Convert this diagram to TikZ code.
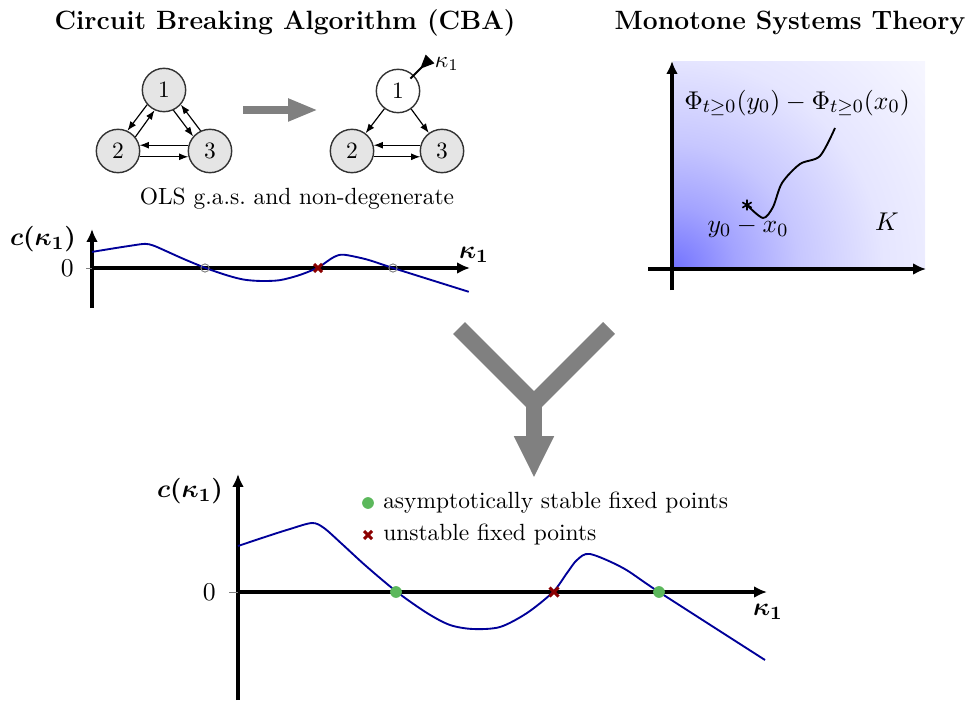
\documentclass[tikz,border=0pt]{standalone}
\usepackage{amsmath,amssymb}
\usepackage{tikz}
\usetikzlibrary{arrows.meta,plotmarks}

\definecolor{curveblue}{RGB}{0,0,153}
\definecolor{stablegreen}{RGB}{92,184,92}
\definecolor{unstablered}{RGB}{139,0,0}
\pgfdeclareradialshading{monoshade}{\pgfpoint{0bp}{0bp}}{color(0bp)=(blue!55); color(4.5bp)=(blue!36); color(9bp)=(blue!22); color(15bp)=(blue!10); color(25bp)=(blue!2); color(50bp)=(blue!2)}
\newcommand{\ccurve}{plot[smooth,tension=0.5] coordinates {(0,-46) (30,-56) (52,-63) (74,-69) (86,-64) (104,-48) (128,-26) (159,0) (189,21) (212,33) (235,37) (262,35) (289,21) (315,0) (329,-19) (339,-32) (352,-38) (385,-24) (421,0) (527,68)}}

\begin{document}
\begin{tikzpicture}[x=0.015cm, y=-0.015cm, >={Latex[length=4pt,width=3pt]},
	species/.style={circle, draw=black!80, fill=gray!20, line width=0.6pt, minimum size=18.5pt, inner sep=0pt},
	flow/.style={->, line width=0.5pt},
	axis/.style={line width=1.6pt, -{Latex[length=5.5pt,width=5pt]}},
	curve/.style={curveblue, line width=0.8pt},
	stabledot/.style={circle, fill=stablegreen, inner sep=0pt, minimum size=5pt},
	opendot/.style={circle, draw=gray, inner sep=0pt, minimum size=3.5pt, line width=0.4pt},
	xmark/.style={unstablered, line width=1.3pt},
	title/.style={font=\fontsize{11.3}{13.5}\selectfont\bfseries},
	biglabel/.style={font=\fontsize{11.2}{13.5}\selectfont},
	bigarrow/.style={gray, line width=7.2pt}]
	\useasboundingbox (0,0) rectangle (971,703);
	\node[title] (cba) at (285,23) {Circuit Breaking Algorithm (CBA)};
	\node[title] (mst) at (790,23) {Monotone Systems Theory};
	% network with all three species
	\node[species] (a1) at (164,90) {1};
	\node[species] (a2) at (118,151) {2};
	\node[species] (a3) at (210,151) {3};
	\draw[flow] (a1.221) -- (a2.65);
	\draw[flow] (a2.39) -- (a1.245);
	\draw[flow] (a1.295) -- (a3.139);
	\draw[flow] (a3.115) -- (a1.319);
	\draw[flow] (a3.165) -- (a2.15);
	\draw[flow] (a2.-15) -- (a3.195);
	\coordinate (ga) at (243,110);
	\coordinate (gb) at (318,110);
	\draw[gray, line width=3.4pt, -{Triangle[length=12.8pt,width=9pt]}] (ga) -- (gb);
	% network with species 1 fixed
	\node[species, fill=white] (b1) at (398,91) {1};
	\node[species] (b2) at (352,151) {2};
	\node[species] (b3) at (442,151) {3};
	\draw[flow] (b1) -- (b2);
	\draw[flow] (b1) -- (b3);
	\draw[flow] (b3.165) -- (b2.15);
	\draw[flow] (b2.-15) -- (b3.195);
	\coordinate (pin) at (430,59);
	\draw[line width=0.9pt, shorten <=7.5pt, -{Triangle[reversed,length=6pt,width=5pt]}] (b1.center) -- (pin);
	\node (k1) at (447,64) {$\kappa_1$};
	\node (ols) at (297,199) {OLS g.a.s.\ and non-degenerate};
	% small plot
	\coordinate (o1) at (92,268);
	\draw[axis] (92,308) -- (92,229);
	\draw[axis] (o1) -- (470,268);
	\draw[gray, line width=0.4pt] (86,268) -- (o1);
	\node[biglabel, anchor=east] (zero1) at (82,268) {$0$};
	\node[biglabel] (c1) at (43,239) {$\boldsymbol{c(\kappa_1)}$};
	\node[biglabel] (kk1) at (474,255) {$\boldsymbol{\kappa_1}$};
	\begin{scope}[shift={(o1)}, xscale=0.715, yscale=0.35]
		\draw[curve] \ccurve;
	\end{scope}
	\node[opendot] (u1) at (205,268) {};
	\node[opendot] (u2) at (393,268) {};
	\draw[xmark] (318,268) +(-4,-4) -- +(4,4) +(-4,4) -- +(4,-4);
	% monotone systems panel
	\begin{scope}
		\clip (673,62) rectangle (925,269);
		\shade[shading=monoshade] (673,269) circle (350);
	\end{scope}
	\draw[axis] (672,290) -- (672,61);
	\draw[axis] (648,269) -- (926,269);
	\node[biglabel] (phi) at (797,103) {$\Phi_{t\geq 0}(y_0)-\Phi_{t\geq 0}(x_0)$};
	\draw[thick] plot[smooth] coordinates {(747,205) (763,218) (773,207) (782,183) (800,164) (820,156) (835,128)};
	\draw[line width=0.7pt] plot[mark=asterisk, mark size=2.3pt] coordinates {(747,205)};
	\node[biglabel] (diff) at (748,228) {$y_0-x_0$};
	\node[biglabel] (cone) at (887,222) {$K$};
	% merging arrow
	\coordinate (yl) at (459,328);
	\coordinate (yr) at (609,328);
	\coordinate (yj) at (534,403);
	\coordinate (yt) at (534,478);
	\draw[bigarrow] (yl) -- (yj) -- (yr);
	\draw[bigarrow, -{Triangle[length=17.9pt,width=15.8pt]}] (yj) -- (yt);
	% large plot
	\coordinate (o2) at (238,592);
	\draw[axis] (238,700) -- (238,474);
	\draw[axis] (o2) -- (767,592);
	\draw[gray, line width=0.4pt] (229,592) -- (o2);
	\node[biglabel, anchor=east] (zero2) at (224,592) {$0$};
	\node[biglabel] (c2) at (190,491) {$\boldsymbol{c(\kappa_1)}$};
	\node[biglabel] (kk2) at (768,612) {$\boldsymbol{\kappa_1}$};
	\begin{scope}[shift={(o2)}]
		\draw[curve] \ccurve;
	\end{scope}
	\node[stabledot] (s1) at (396,592) {};
	\node[stabledot] (s2) at (659,592) {};
	\draw[xmark] (554,592) +(-4.5,-4.5) -- +(4.5,4.5) +(-4.5,4.5) -- +(4.5,-4.5);
	\node[stabledot] (ls) at (368,503) {};
	\node[anchor=west] (lstext) at (375,503) {asymptotically stable fixed points};
	\draw[xmark] (368,535) +(-4,-4) -- +(4,4) +(-4,4) -- +(4,-4);
	\node[anchor=west] (lutext) at (375,535) {unstable fixed points};
\end{tikzpicture}
\end{document}
